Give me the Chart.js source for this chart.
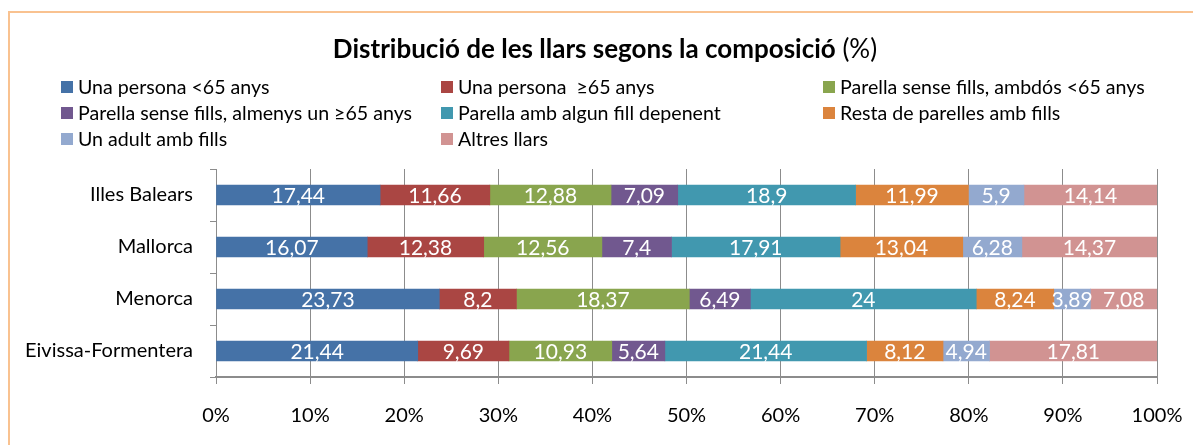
<!DOCTYPE html>
<html>
<head>
<meta charset="utf-8">
<script src="https://cdn.jsdelivr.net/npm/chart.js@4/dist/chart.umd.min.js"></script>
<style>
  html, body { margin: 0; padding: 0; background: #fff; overflow: hidden; }
  #wrap { position: relative; width: 1193px; height: 445px; }
  #frame { position: absolute; left: 8px; top: 11px; width: 1400px; height: 600px; border: 2px solid #f9c290; }
  canvas { position: absolute; left: 0; top: 0; }
</style>
</head>
<body>
<div id="wrap">
  <div id="frame"></div>
  <canvas id="chart" width="1193" height="445"></canvas>
</div>
<script>
// categories and series (percent)
const regions = ['Illes Balears', 'Mallorca', 'Menorca', 'Eivissa-Formentera'];
const seriesNames = [
  'Una persona <65 anys',
  'Una persona  ≥65 anys',
  'Parella sense fills, ambdós <65 anys',
  'Parella sense fills, almenys un ≥65 anys',
  'Parella amb algun fill depenent',
  'Resta de parelles amb fills',
  'Un adult amb fills',
  'Altres llars'
];
const unaPersonaMenor = [17.44, 16.07, 23.73, 21.44];
const unaPersonaMajor = [11.66, 12.38, 8.2, 9.69];
const parellaMenor = [12.88, 12.56, 18.37, 10.93];
const parellaMajor = [7.09, 7.4, 6.49, 5.64];
const parellaFillDep = [18.9, 17.91, 24, 21.44];
const restaParelles = [11.99, 13.04, 8.24, 8.12];
const adultFills = [5.9, 6.28, 3.89, 4.94];
const altresLlars = [14.14, 14.37, 7.08, 17.81];
const xTicks = [0, 10, 20, 30, 40, 50, 60, 70, 80, 90, 100];

const colors = ['#4572a7', '#aa4643', '#89a54e', '#71588f', '#4198af', '#db843d', '#93a9cf', '#d19392'];
const allValues = [unaPersonaMenor, unaPersonaMajor, parellaMenor, parellaMajor, parellaFillDep, restaParelles, adultFills, altresLlars];

const FONT = 'Lato, "Open Sans", sans-serif';

// title + legend laid out like the Excel original
const headerPlugin = {
  id: 'header',
  afterDraw(chart) {
    const ctx = chart.ctx;
    ctx.save();
    ctx.fillStyle = '#000';
    ctx.textBaseline = 'middle';
    const boldPart = 'Distribució de les llars segons la composició';
    const normPart = ' (%)';
    ctx.font = 'bold 26px ' + FONT;
    const w1 = ctx.measureText(boldPart).width;
    ctx.font = '26px ' + FONT;
    const w2 = ctx.measureText(normPart).width;
    let x = 605 - (w1 + w2) / 2;
    ctx.font = 'bold 26px ' + FONT;
    ctx.textAlign = 'left';
    ctx.fillText(boldPart, x, 50);
    ctx.font = '26px ' + FONT;
    ctx.fillText(normPart, x + w1, 50);

    const colX = [61, 441, 823];
    const rowY = [87, 113, 139];
    ctx.font = '19.6px ' + FONT;
    seriesNames.forEach((name, i) => {
      const cx = colX[i % 3];
      const cy = rowY[Math.floor(i / 3)];
      ctx.fillStyle = colors[i];
      ctx.fillRect(cx, cy - 6, 12, 12);
      ctx.fillStyle = '#000';
      ctx.fillText(name, cx + 17, cy + 1);
    });
    ctx.restore();
  }
};

// white value labels in every segment
const valueLabels = {
  id: 'valueLabels',
  afterDatasetsDraw(chart) {
    const ctx = chart.ctx;
    ctx.save();
    ctx.font = '21px ' + FONT;
    ctx.fillStyle = '#fff';
    ctx.textAlign = 'center';
    ctx.textBaseline = 'middle';
    chart.data.datasets.forEach((ds, i) => {
      chart.getDatasetMeta(i).data.forEach((bar, j) => {
        const txt = String(ds.data[j]).replace('.', ',');
        ctx.fillText(txt, (bar.x + bar.base) / 2, bar.y + 1);
      });
    });
    ctx.restore();
  }
};

new Chart(document.getElementById('chart'), {
  type: 'bar',
  data: {
    labels: regions,
    datasets: seriesNames.map((name, i) => ({
      label: name,
      data: allValues[i],
      backgroundColor: colors[i],
      borderWidth: 0,
      barThickness: 20
    }))
  },
  options: {
    indexAxis: 'y',
    responsive: false,
    animation: false,
    layout: { padding: { top: 169, right: 36, left: 0, bottom: 0 } },
    plugins: {
      legend: { display: false },
      title: { display: false },
      tooltip: { enabled: false }
    },
    scales: {
      x: {
        stacked: true,
        min: 0,
        max: 100,
        afterBuildTicks(scale) { scale.ticks = xTicks.map(v => ({ value: v })); },
        afterFit(scale) {
          scale.height = 68;
          scale.paddingLeft = 0;
          scale.paddingRight = 0;
        },
        grid: { color: '#8c8c8c', tickLength: 7 },
        border: { color: '#8c8c8c', width: 2 },
        ticks: {
          padding: 20,
          color: '#000',
          font: { family: FONT, size: 20 },
          callback: v => v + '%'
        }
      },
      y: {
        stacked: true,
        afterFit(scale) { scale.width = 216; },
        grid: { drawOnChartArea: false, offset: true, color: '#8c8c8c', tickLength: 6 },
        border: { color: '#8c8c8c' },
        ticks: {
          padding: 17,
          color: '#000',
          font: { family: FONT, size: 20 }
        }
      }
    }
  },
  plugins: [headerPlugin, valueLabels]
});
</script>
</body>
</html>
